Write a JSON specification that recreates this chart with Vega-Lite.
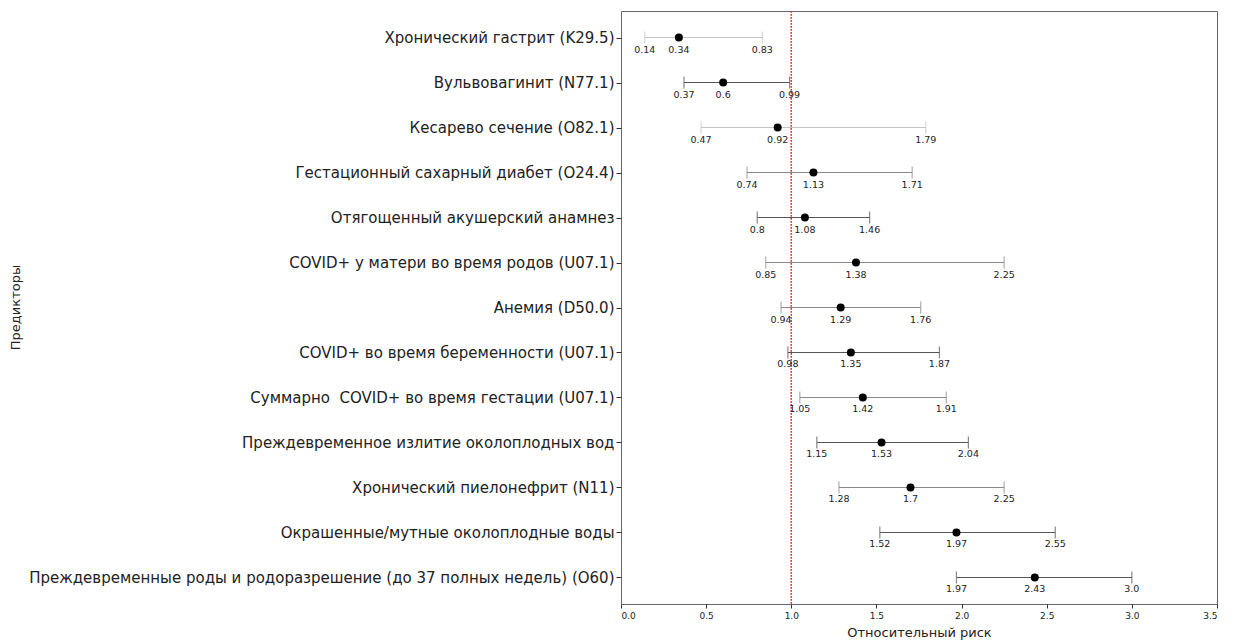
{
  "$schema": "https://vega.github.io/schema/vega-lite/v6.json",
  "width": 596,
  "height": 593,
  "padding": {"left": 9, "top": 10, "right": 5, "bottom": 5},
  "background": "white",
  "config": {
    "font": "DejaVu Sans",
    "view": {"stroke": "#666666", "strokeWidth": 1}
  },
  "data": {
    "values": [
      {"i": 0, "name": "Хронический гастрит (K29.5)", "lo": 0.14, "est": 0.34, "hi": 0.83, "grp": "c"},
      {"i": 1, "name": "Вульвовагинит (N77.1)", "lo": 0.37, "est": 0.6, "hi": 0.99, "grp": "a"},
      {"i": 2, "name": "Кесарево сечение (O82.1)", "lo": 0.47, "est": 0.92, "hi": 1.79, "grp": "c"},
      {"i": 3, "name": "Гестационный сахарный диабет (O24.4)", "lo": 0.74, "est": 1.13, "hi": 1.71, "grp": "b"},
      {"i": 4, "name": "Отягощенный акушерский анамнез", "lo": 0.8, "est": 1.08, "hi": 1.46, "grp": "a"},
      {"i": 5, "name": "COVID+ у матери во время родов (U07.1)", "lo": 0.85, "est": 1.38, "hi": 2.25, "grp": "b"},
      {"i": 6, "name": "Анемия (D50.0)", "lo": 0.94, "est": 1.29, "hi": 1.76, "grp": "b"},
      {"i": 7, "name": "COVID+ во время беременности (U07.1)", "lo": 0.98, "est": 1.35, "hi": 1.87, "grp": "a"},
      {"i": 8, "name": "Суммарно \u00a0COVID+ во время гестации (U07.1)", "lo": 1.05, "est": 1.42, "hi": 1.91, "grp": "b"},
      {"i": 9, "name": "Преждевременное излитие околоплодных вод", "lo": 1.15, "est": 1.53, "hi": 2.04, "grp": "a"},
      {"i": 10, "name": "Хронический пиелонефрит (N11)", "lo": 1.28, "est": 1.7, "hi": 2.25, "grp": "b"},
      {"i": 11, "name": "Окрашенные/мутные околоплодные воды", "lo": 1.52, "est": 1.97, "hi": 2.55, "grp": "a"},
      {"i": 12, "name": "Преждевременные роды и родоразрешение (до 37 полных недель) (O60)", "lo": 1.97, "est": 2.43, "hi": 3.0, "grp": "a"}
    ]
  },
  "encoding": {
    "y": {
      "field": "name",
      "type": "nominal",
      "sort": {"field": "i", "order": "ascending"},
      "scale": {"type": "point", "padding": 0.589},
      "axis": {
        "title": "Предикторы",
        "titleFontSize": 13,
        "titleFontWeight": "normal",
        "titleColor": "#222",
        "titleX": -606,
        "titleY": 296,
        "titleAngle": -90,
        "titleAlign": "center",
        "titleBaseline": "middle",
        "labelFontSize": 15,
        "labelColor": "#222",
        "labelLimit": 800,
        "tickColor": "#333",
        "tickSize": 5,
        "labelPadding": 2,
        "domain": false
      }
    }
  },
  "layer": [
    {
      "mark": {"type": "rule", "color": "#ff3030", "strokeWidth": 0.6, "strokeDash": [1.5, 1.5], "opacity": 0.5},
      "encoding": {"x": {"datum": 1, "type": "quantitative"}, "y": null}
    },
    {
      "mark": {"type": "rule", "strokeWidth": 1.1},
      "encoding": {
        "x": {
          "field": "lo",
          "type": "quantitative",
          "scale": {"domain": [0, 3.5], "nice": false, "zero": false},
          "axis": {
            "values": [0, 0.5, 1, 1.5, 2, 2.5, 3, 3.5],
            "format": ".1f",
            "title": "Относительный риск",
            "titleFontSize": 13,
            "titleFontWeight": "normal",
            "titleColor": "#222",
            "titlePadding": 6,
            "labelFontSize": 9,
            "labelColor": "#222",
            "tickColor": "#333",
            "tickSize": 4,
            "labelPadding": 3,
            "grid": false,
            "domain": false
          }
        },
        "x2": {"field": "hi"},
        "color": {
          "field": "grp",
          "type": "nominal",
          "scale": {"domain": ["a", "b", "c"], "range": ["#555555", "#8a8a8a", "#c4c4c4"]},
          "legend": null
        }
      }
    },
    {
      "mark": {"type": "tick", "orient": "vertical", "size": 12, "thickness": 1.2},
      "encoding": {
        "x": {"field": "lo", "type": "quantitative"},
        "color": {"field": "grp", "type": "nominal", "legend": null}
      }
    },
    {
      "mark": {"type": "tick", "orient": "vertical", "size": 12, "thickness": 1.2},
      "encoding": {
        "x": {"field": "hi", "type": "quantitative"},
        "color": {"field": "grp", "type": "nominal", "legend": null}
      }
    },
    {
      "mark": {"type": "point", "filled": true, "color": "black", "opacity": 1, "size": 64},
      "encoding": {"x": {"field": "est", "type": "quantitative"}}
    },
    {
      "transform": [
        {"fold": ["lo", "est", "hi"], "as": ["k", "v"]},
        {"calculate": "datum.v % 1 === 0 ? format(datum.v, '.1f') : '' + datum.v", "as": "lab"}
      ],
      "mark": {"type": "text", "dy": 12, "fontSize": 9.5, "color": "#222", "baseline": "middle"},
      "encoding": {
        "x": {"field": "v", "type": "quantitative"},
        "text": {"field": "lab"}
      }
    }
  ]
}
